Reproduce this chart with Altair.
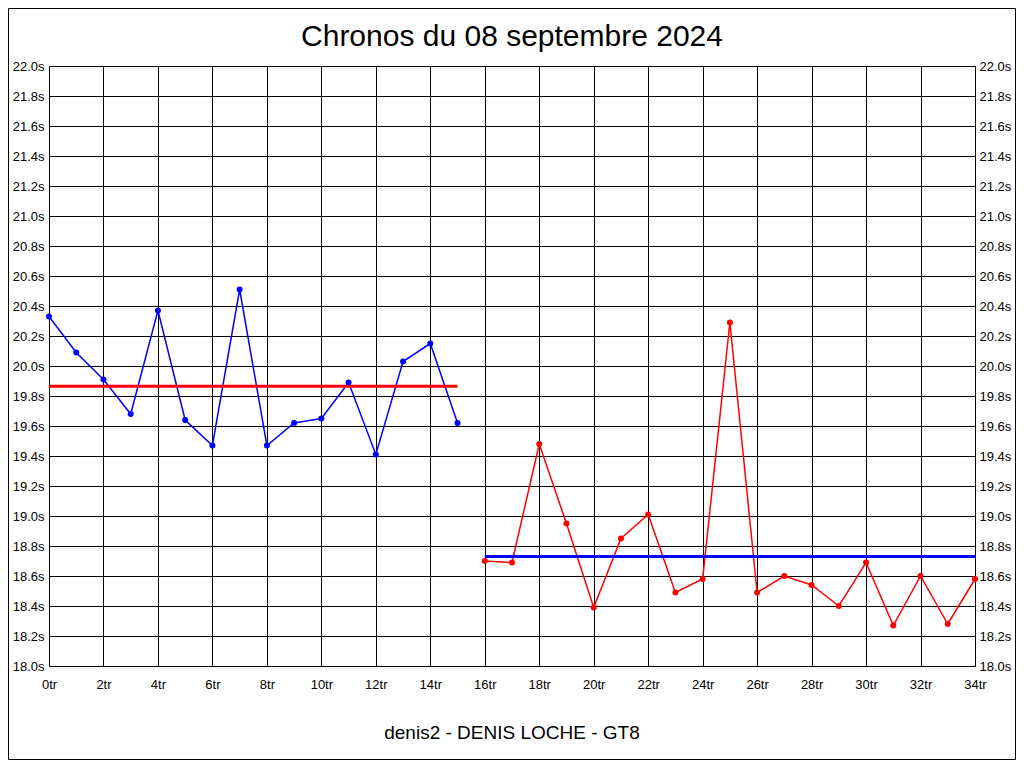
import altair as alt
import pandas as pd
import numpy as np

# ---- data ----
laps_a = [0, 1, 2, 3, 4, 5, 6, 7, 8, 9, 10, 11, 12, 13, 14, 15]
times_a = [20.33, 20.09, 19.91, 19.68, 20.37, 19.64, 19.47, 20.51, 19.47,
           19.62, 19.65, 19.89, 19.41, 20.03, 20.15, 19.62]
laps_b = [16, 17, 18, 19, 20, 21, 22, 23, 24, 25, 26, 27, 28, 29, 30, 31, 32, 33, 34]
times_b = [18.70, 18.69, 19.48, 18.95, 18.39, 18.85, 19.01, 18.49, 18.58, 20.29,
           18.49, 18.60, 18.54, 18.40, 18.69, 18.27, 18.60, 18.28, 18.58]
x_ticks = [0, 2, 4, 6, 8, 10, 12, 14, 16, 18, 20, 22, 24, 26, 28, 30, 32, 34]
y_ticks = [18.0, 18.2, 18.4, 18.6, 18.8, 19.0, 19.2, 19.4, 19.6, 19.8, 20.0,
           20.2, 20.4, 20.6, 20.8, 21.0, 21.2, 21.4, 21.6, 21.8, 22.0]
title_text = "Chronos du 08 septembre 2024"
footer_text = "denis2 - DENIS LOCHE - GT8"

FONT = "Liberation Sans"
W, H = 926, 600
PL, PT, PR, PB = 41, 58, 41, 94

df_a = pd.DataFrame({"lap": laps_a, "t": times_a})
df_b = pd.DataFrame({"lap": laps_b, "t": times_b})
df_avg_a = pd.DataFrame({"lap": [laps_a[0]], "x1": [laps_a[-1]], "avg": [float(np.mean(times_a))]})
df_avg_b = pd.DataFrame({"lap": [laps_b[0]], "x1": [laps_b[-1]], "avg": [float(np.mean(times_b))]})
df_title = pd.DataFrame({"txt": [title_text]})
df_footer = pd.DataFrame({"txt": [footer_text]})
df_one = pd.DataFrame({"k": [0]})

xscale = alt.Scale(domain=[0, 34], nice=False, zero=False)
yscale = alt.Scale(domain=[18, 22], nice=False, zero=False)

x_axis = alt.Axis(values=x_ticks, labelExpr="datum.value + 'tr'", grid=True,
                  gridColor="black", gridOpacity=1, gridWidth=1,
                  ticks=False, domain=False, labelFont=FONT, labelFontSize=13,
                  labelColor="black", labelPadding=12, labelFlush=False, title=None)
y_axis_left = alt.Axis(values=y_ticks, labelExpr="format(datum.value, '.1f') + 's'",
                       grid=True, gridColor="black", gridOpacity=1, gridWidth=1,
                       ticks=False, domain=False, labelFont=FONT, labelFontSize=13,
                       labelColor="black", labelPadding=5, labelFlush=False,
                       title=None, orient="left")
y_axis_right = alt.Axis(values=y_ticks, labelExpr="format(datum.value, '.1f') + 's'",
                        grid=False, ticks=False, domain=False, labelFont=FONT,
                        labelFontSize=13, labelColor="black", labelPadding=4,
                        labelFlush=False, title=None, orient="right")

X = alt.X("lap:Q", scale=xscale, axis=x_axis)

line_a = alt.Chart(df_a).mark_line(color="#0000ff", strokeWidth=1.5).encode(
    x=X, y=alt.Y("t:Q", scale=yscale, axis=y_axis_left))
line_b = alt.Chart(df_b).mark_line(color="#ff0000", strokeWidth=1.5).encode(
    x=X, y=alt.Y("t:Q", scale=yscale, axis=y_axis_right))
rule_a = alt.Chart(df_avg_a).mark_rule(color="#ff0000", strokeWidth=3).encode(
    x=X, x2="x1:Q", y=alt.Y("avg:Q", scale=yscale, axis=None))
rule_b = alt.Chart(df_avg_b).mark_rule(color="#0000ff", strokeWidth=3).encode(
    x=X, x2="x1:Q", y=alt.Y("avg:Q", scale=yscale, axis=None))
pts_a = alt.Chart(df_a).mark_point(filled=True, color="#0000ff", size=36, opacity=1).encode(
    x=X, y=alt.Y("t:Q", scale=yscale, axis=None))
pts_b = alt.Chart(df_b).mark_point(filled=True, color="#ff0000", size=36, opacity=1).encode(
    x=X, y=alt.Y("t:Q", scale=yscale, axis=None))
title_mark = alt.Chart(df_title).mark_text(font=FONT, fontSize=30, color="black",
                                           align="center", baseline="alphabetic").encode(
    text="txt:N", x=alt.value(W / 2), y=alt.value(-20))
footer_mark = alt.Chart(df_footer).mark_text(font=FONT, fontSize=19, color="black",
                                             align="center", baseline="alphabetic").encode(
    text="txt:N", x=alt.value(W / 2), y=alt.value(H + 73))
border = alt.Chart(df_one).mark_rect(fill=None, stroke="black", strokeWidth=1, clip=False).encode(
    x=alt.value(-PL + 0.5), x2=alt.value(W + PR - 0.5),
    y=alt.value(-PT + 0.5), y2=alt.value(H + PB - 0.5))

chart = alt.layer(line_a, line_b, rule_a, rule_b, pts_a, pts_b,
                  title_mark, footer_mark, border).resolve_axis(
    y="independent").properties(
    width=W, height=H,
    autosize=alt.AutoSizeParams(type="none"),
    padding={"left": PL, "top": PT, "right": PR, "bottom": PB},
).configure_view(stroke="black", strokeWidth=1).configure(background="white")

chart.save("out.html", embed_options={"renderer": "svg", "actions": False})
